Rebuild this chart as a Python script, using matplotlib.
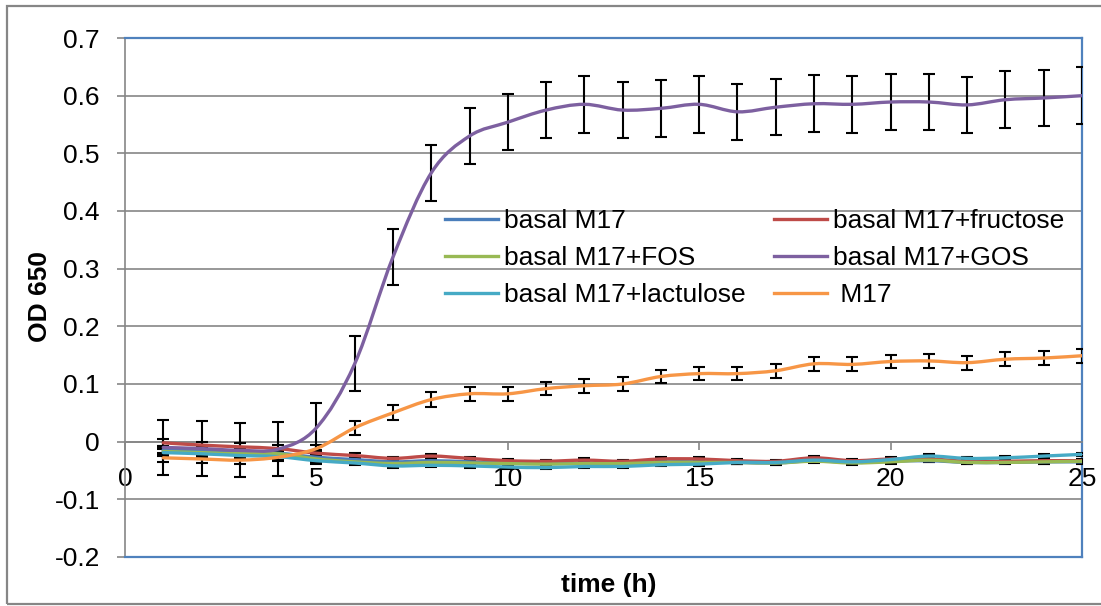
import numpy as np
import matplotlib
matplotlib.use("Agg")
import matplotlib.pyplot as plt
from matplotlib.path import Path
from matplotlib.patches import PathPatch, Rectangle
from matplotlib.lines import Line2D

plt.rcParams['font.family'] = ['Liberation Sans', 'DejaVu Sans']

# time points (h)
hours = list(range(1, 26))

basal = [-0.014, -0.016, -0.018, -0.020, -0.027, -0.031, -0.035, -0.033, -0.035, -0.037,
         -0.038, -0.037, -0.038, -0.035, -0.035, -0.036, -0.037, -0.033, -0.036, -0.034,
         -0.033, -0.036, -0.036, -0.035, -0.035]
fructose = [-0.002, -0.006, -0.009, -0.012, -0.020, -0.024, -0.029, -0.025, -0.029, -0.033,
            -0.034, -0.032, -0.034, -0.030, -0.030, -0.033, -0.034, -0.028, -0.033, -0.030,
            -0.030, -0.034, -0.034, -0.033, -0.033]
fos = [-0.017, -0.019, -0.021, -0.021, -0.030, -0.035, -0.038, -0.036, -0.037, -0.038,
       -0.039, -0.038, -0.038, -0.036, -0.036, -0.036, -0.037, -0.034, -0.037, -0.035,
       -0.032, -0.036, -0.036, -0.035, -0.034]
gos = [-0.010, -0.012, -0.015, -0.013, 0.024, 0.135, 0.320, 0.466, 0.530, 0.554,
       0.575, 0.585, 0.575, 0.578, 0.585, 0.572, 0.580, 0.586, 0.585, 0.589,
       0.589, 0.584, 0.593, 0.596, 0.600]
lactulose = [-0.019, -0.021, -0.024, -0.026, -0.033, -0.037, -0.042, -0.041, -0.042, -0.044,
             -0.045, -0.043, -0.043, -0.040, -0.039, -0.036, -0.036, -0.032, -0.035, -0.031,
             -0.025, -0.029, -0.028, -0.025, -0.022]
m17 = [-0.028, -0.030, -0.032, -0.027, -0.012, 0.024, 0.050, 0.073, 0.083, 0.083,
       0.092, 0.097, 0.100, 0.113, 0.118, 0.118, 0.123, 0.135, 0.134, 0.139,
       0.140, 0.137, 0.143, 0.145, 0.149]

# standard deviations
err_small = [0.006, 0.006, 0.006, 0.006, 0.005, 0.004, 0.003, 0.003, 0.003, 0.003,
             0.003, 0.003, 0.003, 0.003, 0.003, 0.003, 0.003, 0.003, 0.003, 0.003,
             0.003, 0.003, 0.003, 0.003, 0.003]
err_gos = [0.047, 0.047, 0.047, 0.047, 0.043, 0.048, 0.048, 0.049, 0.049, 0.049,
           0.049, 0.049, 0.049, 0.049, 0.049, 0.049, 0.049, 0.049, 0.049, 0.049,
           0.049, 0.049, 0.049, 0.049, 0.049]
err_m17 = [0.007, 0.007, 0.007, 0.007, 0.006, 0.012, 0.013, 0.013, 0.012, 0.012,
           0.011, 0.012, 0.012, 0.012, 0.011, 0.011, 0.012, 0.012, 0.012, 0.012,
           0.012, 0.012, 0.012, 0.012, 0.012]

labels = ['basal M17', 'basal M17+fructose', 'basal M17+FOS',
          'basal M17+GOS', 'basal M17+lactulose', ' M17']
colors = ['#4A7EBB', '#BE4B48', '#98B954', '#7D60A0', '#46AAC5', '#F79646']

yticks = [-0.2, -0.1, 0, 0.1, 0.2, 0.3, 0.4, 0.5, 0.6, 0.7]
ytick_labels = ['-0.2', '-0.1', '0', '0.1', '0.2', '0.3', '0.4', '0.5', '0.6', '0.7']
xticks = [0, 5, 10, 15, 20, 25]

GRAY = '#868686'
BLUE = '#4F81BD'


def smooth_path(x, y):
    # excel style smoothed line (catmull-rom as cubic beziers)
    pts = np.column_stack([x, y]).astype(float)
    n = len(pts)
    verts = [pts[0]]
    for i in range(n - 1):
        p0 = pts[max(i - 1, 0)]
        p1 = pts[i]
        p2 = pts[i + 1]
        p3 = pts[min(i + 2, n - 1)]
        verts += [p1 + (p2 - p0) / 6, p2 - (p3 - p1) / 6, p2]
    codes = [Path.MOVETO] + [Path.CURVE4] * (3 * (n - 1))
    return Path(verts, codes)


fig = plt.figure(figsize=(11.01, 6.06), dpi=100)
ax = fig.add_axes([125 / 1101, 1 - 557 / 606, (1082 - 125) / 1101, (557 - 38) / 606])

series = [basal, fructose, fos, gos, lactulose, m17]
errors = [err_small, err_small, err_small, err_gos, err_small, err_m17]

for vals, err in zip(series, errors):
    ax.errorbar(hours, vals, yerr=err, fmt='none', ecolor='black',
                elinewidth=1.5, capsize=4.3, capthick=1.5, zorder=3)

for vals, c in zip(series, colors):
    ax.add_patch(PathPatch(smooth_path(hours, vals), fill=False, edgecolor=c,
                           lw=2.4, joinstyle='round', capstyle='round', zorder=4))

ax.set_xlim(0, 25)
ax.set_ylim(-0.2, 0.7)
ax.set_xticks(xticks)
ax.set_xticklabels([str(v) for v in xticks])
ax.set_yticks(yticks)
ax.set_yticklabels(ytick_labels)

ax.yaxis.grid(True, color=GRAY, lw=1.2)
ax.set_axisbelow(True)

ax.spines['left'].set_color(GRAY)
ax.spines['left'].set_linewidth(1.2)
ax.spines['bottom'].set_position(('data', 0))
ax.spines['bottom'].set_color(GRAY)
ax.spines['bottom'].set_linewidth(1.2)
for s in ['top', 'right']:
    ax.spines[s].set_color(BLUE)
    ax.spines[s].set_linewidth(1.6)
ax.axhline(-0.2, color=BLUE, lw=1.6, clip_on=False, zorder=2.6)

ax.tick_params(axis='both', which='major', labelsize=19, direction='out',
               length=6, width=1.2, color=GRAY, pad=12)

fig.text(40 / 1101, 1 - 297 / 606, 'OD 650', rotation=90, ha='center', va='center',
         fontsize=19, fontweight='bold')
fig.text(609 / 1101, 1 - 585 / 606, 'time (h)', ha='center', va='center',
         fontsize=19, fontweight='bold')

handles = [Line2D([], [], color=c, lw=2.4) for c in colors]
# column-wise order for a two-column legend
order = [0, 2, 4, 1, 3, 5]
ax.legend([handles[i] for i in order], [labels[i] for i in order], ncol=2,
          loc='upper left', bbox_to_anchor=((445 - 125) / 957, 1 - (209 - 38) / 519),
          frameon=False, fontsize=19, handlelength=2.0, handletextpad=0.25,
          columnspacing=1.06, labelspacing=0.5, borderpad=0, borderaxespad=0)

fig.add_artist(Rectangle((7 / 1101, 1 - 604 / 606), 1.0, (604 - 6) / 606,
                         transform=fig.transFigure, fill=False, edgecolor=GRAY, lw=1.6))

fig.savefig('out.png', dpi=100)
